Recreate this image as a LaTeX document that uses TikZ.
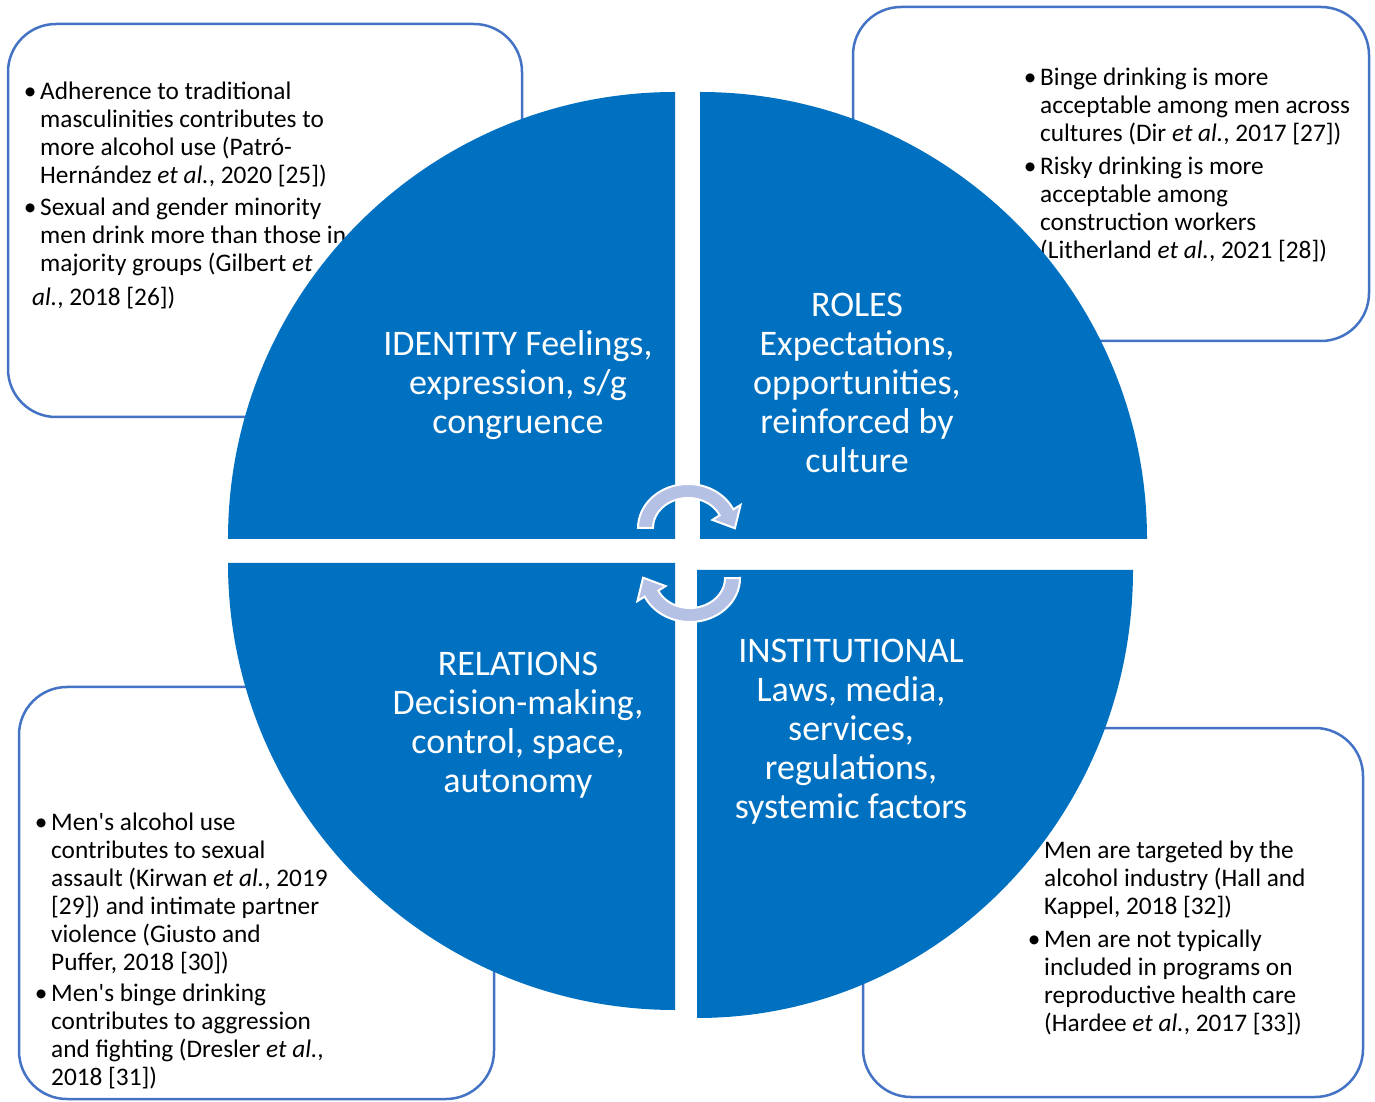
\documentclass[tikz,border=0pt]{standalone}
\usepackage{fontspec}
\setmainfont{Carlito}[Ligatures=TeXOff]
\definecolor{qblue}{RGB}{0,112,192}
\definecolor{bline}{RGB}{68,114,196}
\definecolor{arrfill}{RGB}{180,192,228}
\newcommand{\bul}{\leavevmode\llap{\makebox[20pt][c]{•}}}
\newcommand{\bulx}{\leavevmode\llap{\makebox[28pt][c]{•}}}
\begin{document}
\begin{tikzpicture}[x=1pt,y=1pt,
  box/.style={draw=bline, line width=2.5pt, rounded corners=48pt},
  quad/.style={fill=qblue},
  body/.style={anchor=base west, inner sep=0pt, font=\fontsize{25.3}{28}\selectfont},
  ctext/.style={anchor=base, inner sep=0pt, text=white, font=\fontsize{36}{39}\selectfont},
  arrowshape/.style={fill=arrfill, draw=white, line width=2pt, line join=miter}]
\useasboundingbox (0,0) rectangle (1375,1101);
\fill[white] (0,0) rectangle (1375,1101);

% boxes
\draw[box] (8,684) rectangle (522,1077);
\draw[box] (853,760) rectangle (1369,1094);
\draw[box] (19,2) rectangle (494,414);
\draw[box] (863,4) rectangle (1363,373);

% box texts
\node[body] (tla) at (40,1001) {\parbox[t]{450pt}{\raggedright\bul Adherence to traditional\\masculinities contributes to\\more alcohol use (Patró-\\Hernández \textit{et al.}, 2020 [25])}};
\node[body] (tlb) at (40,885) {\parbox[t]{450pt}{\raggedright\bul Sexual and gender minority\\men drink more than those in\\majority groups (Gilbert \textit{et}}};
\node[body] (tlc) at (32,795) {\textit{al.}, 2018 [26])};

\node[body] (tra) at (1040,1015) {\parbox[t]{450pt}{\raggedright\bul Binge drinking is more\\acceptable among men across\\cultures (Dir \textit{et al.}, 2017 [27])}};
\node[body] (trb) at (1040,926) {\parbox[t]{450pt}{\raggedright\bul Risky drinking is more\\acceptable among\\construction workers\\(Litherland \textit{et al.}, 2021 [28])}};

\node[body] (bla) at (51,271) {\parbox[t]{450pt}{\raggedright\bul Men's alcohol use\\contributes to sexual\\assault (Kirwan \textit{et al.}, 2019\\{[29]}) and intimate partner\\violence (Giusto and\\Puffer, 2018 [30])}};
\node[body] (blb) at (51,100) {\parbox[t]{450pt}{\raggedright\bul Men's binge drinking\\contributes to aggression\\and fighting (Dresler \textit{et al.},\\2018 [31])}};

\node[body] (bra) at (1044,243) {\parbox[t]{450pt}{\raggedright\bulx Men are targeted by the\\alcohol industry (Hall and\\Kappel, 2018 [32])}};
\node[body] (brb) at (1044,154) {\parbox[t]{450pt}{\raggedright\bul Men are not typically\\included in programs on\\reproductive health care\\(Hardee \textit{et al.}, 2017 [33])}};

% quadrants
\fill[quad] (675,562) -- (228,562) arc[start angle=180,end angle=90,radius=447] -- cycle;
\fill[quad] (700,562) -- (700,1009) arc[start angle=90,end angle=0,radius=447] -- cycle;
\fill[quad] (675,538) -- (228,538) arc[start angle=180,end angle=270,radius=447] -- cycle;
\fill[quad] (697,531) -- (1133,531) arc[start angle=0,end angle=-90,x radius=436,y radius=448] -- cycle;

% circular arrows
\path[arrowshape] (638,573) arc[start angle=180,end angle=25,x radius=50,y radius=44]
  -- (740.6,596.1) -- (734.9,572.7) -- (712.4,581.1) -- (719.7,585.7)
  arc[start angle=25,end angle=180,x radius=35,y radius=30] -- cycle;
\begin{scope}[rotate around={180:(689,548)}]
\path[arrowshape] (638,573) arc[start angle=180,end angle=25,x radius=50,y radius=44]
  -- (740.6,596.1) -- (734.9,572.7) -- (712.4,581.1) -- (719.7,585.7)
  arc[start angle=25,end angle=180,x radius=35,y radius=30] -- cycle;
\end{scope}

% quadrant texts
\node[ctext] (idt) at (518,745) {\parbox[t]{400pt}{\centering IDENTITY Feelings,\\expression, s/g\\congruence}};
\node[ctext] (rol) at (857,784) {\parbox[t]{400pt}{\centering ROLES\\Expectations,\\opportunities,\\reinforced by\\culture}};
\node[ctext] (rel) at (518,425) {\parbox[t]{400pt}{\centering RELATIONS\\Decision-making,\\control, space,\\autonomy}};
\node[ctext] (ins) at (851,438) {\parbox[t]{400pt}{\centering INSTITUTIONAL\\Laws, media,\\services,\\regulations,\\systemic factors}};
\end{tikzpicture}
\end{document}
